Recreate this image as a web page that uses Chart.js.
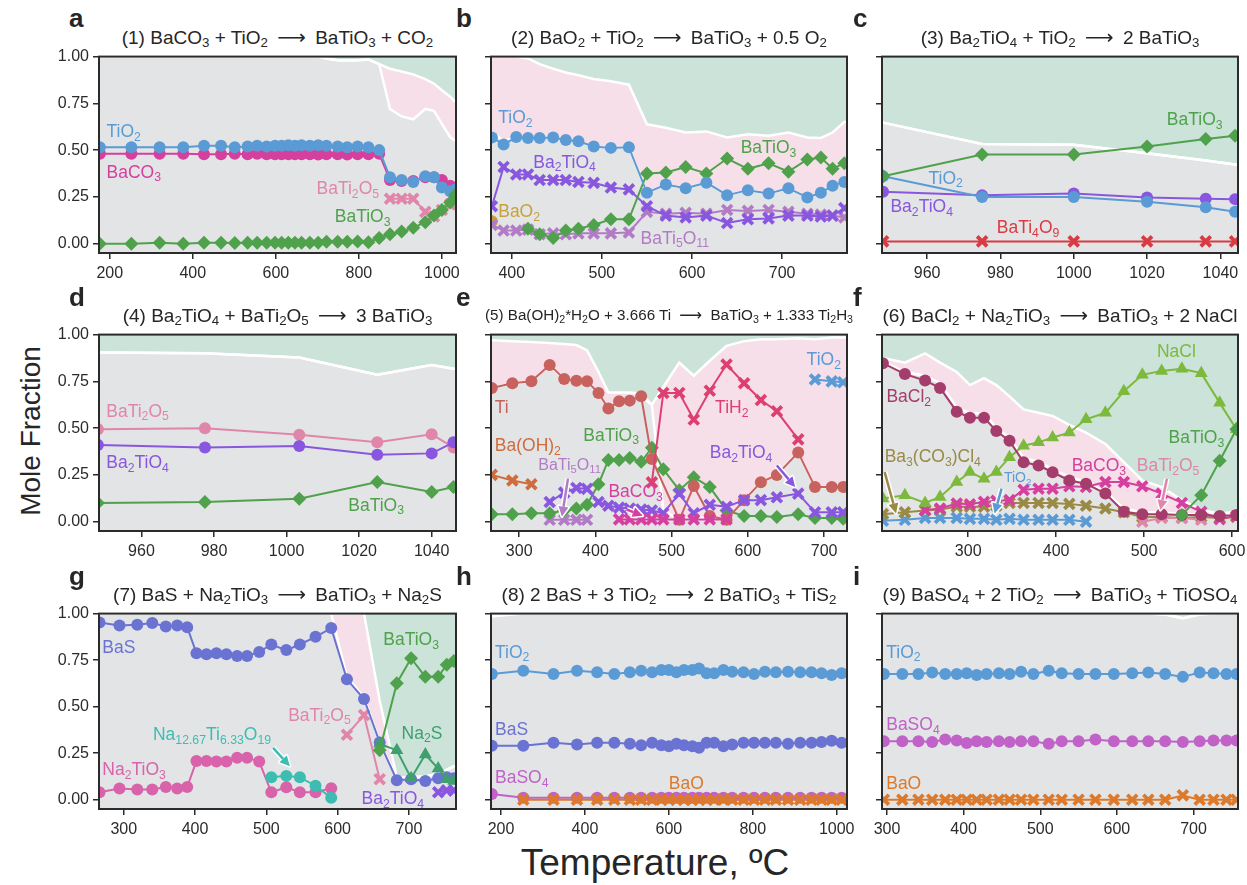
<!DOCTYPE html>
<html>
<head>
<meta charset="utf-8">
<script src="https://cdn.jsdelivr.net/npm/chart.js@4.4.1/dist/chart.umd.min.js"></script>
<style>
  body { margin: 0; background: #fff; font-family: "Liberation Sans", Arial, sans-serif; color: #262626; }
  #fig { position: relative; width: 1247px; height: 885px; overflow: hidden; }
  .title { position: absolute; text-align: center; white-space: nowrap; font-size: 19px; line-height: 22px; }
  .title sub { font-size: 0.7em; vertical-align: -0.25em; line-height: 0; }
  .title .arr { font-family: "DejaVu Sans", sans-serif; font-size: 1.05em; margin: 0 4px; }
  .letter { position: absolute; font-weight: bold; font-size: 26px; line-height: 26px; }
  .axlabel { position: absolute; text-align: center; white-space: nowrap; }
</style>
</head>
<body>
<div id="fig">
  <div class="axlabel" style="left:-69px;top:415px;width:200px;font-size:28px;line-height:32px;transform:rotate(-90deg);">Mole Fraction</div>
  <div class="axlabel" style="left:405px;top:842px;width:500px;font-size:37px;line-height:42px;">Temperature, ºC</div>
</div>
<script>
// ---- panel a: BaCO3 + TiO2 ----
const tempsA = [176, 252, 320, 377, 427, 468, 501, 532, 555, 578, 598, 614, 630, 646, 662, 682, 702, 722, 749, 772, 797, 823, 849, 875, 903, 931, 960, 981, 1000, 1020, 1032];
const aTiO2 = [0.515, 0.515, 0.515, 0.515, 0.524, 0.524, 0.515, 0.52, 0.524, 0.52, 0.524, 0.524, 0.526, 0.524, 0.526, 0.524, 0.526, 0.524, 0.52, 0.515, 0.52, 0.515, 0.50, 0.355, 0.34, 0.33, 0.36, 0.355, 0.30, 0.28, 0.29];
const aBaCO3 = [0.48, 0.48, 0.48, 0.48, 0.478, 0.478, 0.48, 0.478, 0.48, 0.478, 0.478, 0.478, 0.478, 0.478, 0.478, 0.478, 0.476, 0.478, 0.478, 0.476, 0.478, 0.478, 0.48, 0.34, 0.335, 0.335, 0.355, 0.355, 0.34, 0.31, 0.29];
const aBaTi2O5 = [null, null, null, null, null, null, null, null, null, null, null, null, null, null, null, null, null, null, null, null, null, null, null, 0.24, 0.24, 0.24, 0.17, 0.145, 0.18, 0.21, 0.22];
const aBaTiO3 = [0, 0, 0.005, 0, 0.005, 0.005, 0.003, 0.005, 0.005, 0.005, 0.005, 0.005, 0.005, 0.005, 0.005, 0.005, 0.005, 0.01, 0.01, 0.01, 0.012, 0.008, 0.03, 0.05, 0.065, 0.085, 0.115, 0.15, 0.18, 0.22, 0.26];
const aLower = [1, 1, 1, 1, 1, 1, 1, 1, 1, 1, 1, 1, 1, 1, 1, 1, 1, 0.99, 0.98, 0.98, 0.98, 0.985, 0.96, 0.72, 0.68, 0.665, 0.72, 0.71, 0.64, 0.57, 0.55];
const aUpper = [1, 1, 1, 1, 1, 1, 1, 1, 1, 1, 1, 1, 1, 1, 1, 1, 1, 0.99, 0.98, 0.98, 0.98, 0.985, 0.96, 0.935, 0.92, 0.905, 0.88, 0.855, 0.82, 0.785, 0.76];
const xTicksA = [200, 400, 600, 800, 1000];

// ---- panel b: BaO2 + TiO2 ----
const tempsB = [378, 391, 405, 418, 431, 446, 460, 474, 491, 510, 530, 550, 571, 593, 616, 639, 662, 685, 707, 728, 743, 756, 769];
const bTiO2 = [0.568, 0.53, 0.57, 0.565, 0.565, 0.568, 0.554, 0.547, 0.519, 0.512, 0.515, 0.272, 0.316, 0.296, 0.326, 0.259, 0.286, 0.268, 0.296, 0.247, 0.272, 0.31, 0.33];
const bBaO2 = [0.12, null, null, null, null, null, null, null, null, null, null, null, null, null, null, null, null, null, null, null, null, null, null];
const bBa2TiO4 = [0.2, 0.41, 0.37, 0.37, 0.34, 0.34, 0.34, 0.33, 0.325, 0.3, 0.29, 0.2, 0.15, 0.14, 0.15, 0.11, 0.13, 0.135, 0.15, 0.15, 0.145, 0.15, 0.19];
const bBaTi5O11 = [0.1, 0.07, 0.07, 0.075, 0.05, 0.055, 0.05, 0.055, 0.055, 0.055, 0.06, 0.17, 0.16, 0.165, 0.16, 0.18, 0.175, 0.18, 0.17, 0.16, 0.155, 0.15, 0.14];
const bBaTiO3 = [null, null, null, 0.08, 0.05, 0.03, 0.07, 0.08, 0.1, 0.13, 0.13, 0.375, 0.38, 0.41, 0.375, 0.455, 0.4, 0.43, 0.385, 0.45, 0.46, 0.4, 0.43];
const bLower = [0.6, 0.55, 0.57, 0.565, 0.565, 0.568, 0.554, 0.547, 0.519, 0.512, 0.515, 0.272, 0.316, 0.296, 0.326, 0.259, 0.286, 0.268, 0.296, 0.247, 0.272, 0.31, 0.33];
const bUpper = [1, 1, 1, 0.99, 0.96, 0.935, 0.915, 0.9, 0.88, 0.868, 0.85, 0.638, 0.62, 0.594, 0.6, 0.568, 0.585, 0.577, 0.594, 0.568, 0.565, 0.594, 0.65];
const xTicksB = [400, 500, 600, 700];

// ---- panel c: Ba2TiO4 + TiO2 ----
const tempsC = [948, 975, 1000, 1020, 1036, 1044];
const cBaTiO3 = [0.36, 0.476, 0.476, 0.52, 0.559, 0.577];
const cTiO2 = [0.36, 0.25, 0.25, 0.224, 0.194, 0.171];
const cBa2TiO4 = [0.277, 0.259, 0.268, 0.247, 0.24, 0.238];
const cBaTi4O9 = [0.012, 0.012, 0.012, 0.012, 0.012, 0.012];
const cBand = [0.647, 0.533, 0.529, 0.483, 0.445, 0.423];
const xTicksC = [960, 980, 1000, 1020, 1040];

// ---- panel d: Ba2TiO4 + BaTi2O5 ----
const tempsD = [948, 977.5, 1003.5, 1025, 1040, 1046];
const dBaTi2O5 = [0.494, 0.499, 0.464, 0.424, 0.467, 0.397];
const dBa2TiO4 = [0.41, 0.397, 0.404, 0.358, 0.365, 0.424];
const dBaTiO3 = [0.1, 0.105, 0.123, 0.212, 0.159, 0.185];
const dBand = [0.905, 0.9, 0.877, 0.785, 0.838, 0.817];
const xTicksD = [960, 980, 1000, 1020, 1040];

// ---- panel e: Ba(OH)2*H2O + Ti ----
const tempsE = [264, 291, 316, 340, 359, 375, 389, 404, 417, 431, 445, 460, 474, 489, 510, 529, 550, 572, 595, 617, 638, 666, 688, 710, 725];
const eTi = [0.714, 0.74, 0.75, 0.838, 0.763, 0.753, 0.75, 0.688, 0.605, 0.644, 0.647, 0.67, 0.335, null, 0.01, 0.19, 0.03, 0.01, 0.115, 0.21, 0.25, 0.37, 0.185, 0.185, 0.185];
const eBaOH2 = [0.25, 0.22, 0.2, null, null, null, null, null, null, null, null, null, null, null, null, null, null, null, null, null, null, null, null, null, null];
const eBaTi5O11 = [null, null, null, 0.01, 0.01, 0.01, 0.01, null, null, null, null, null, null, null, null, null, null, null, null, null, null, null, null, null, null];
const eBa2TiO4 = [null, null, null, 0.105, 0.155, 0.18, 0.175, 0.105, 0.085, 0.075, 0.07, 0.065, 0.06, 0.045, 0.15, 0.045, 0.09, 0.08, 0.115, 0.115, 0.13, 0.15, 0.05, 0.05, 0.05];
const eBaTiO3 = [0.04, 0.04, 0.045, 0.045, 0.06, 0.07, 0.09, 0.2, 0.33, 0.33, 0.34, 0.32, 0.395, 0.28, 0.168, 0.238, 0.185, 0.06, 0.03, 0.03, 0.025, 0.04, 0.02, 0.02, 0.015];
const eBaCO3 = [null, null, null, null, null, null, null, null, null, 0.012, 0.012, 0.012, 0.012, 0.012, 0.012, 0.012, 0.012, 0.012, null, null, null, null, null, null, null];
const eTiH2 = [null, null, null, null, null, null, null, null, null, null, null, null, 0.21, 0.688, 0.688, 0.546, 0.7, 0.84, 0.74, 0.65, 0.59, 0.44, null, null, null];
const eTiO2 = [null, null, null, null, null, null, null, null, null, null, null, null, null, null, null, null, null, null, null, null, null, null, 0.76, 0.75, 0.745];
const eLower = [0.714, 0.74, 0.75, 0.838, 0.763, 0.753, 0.75, 0.688, 0.605, 0.644, 0.647, 0.67, 0.625, 0.06, 0.01, 0.02, 0.02, 0.01, 0.115, 0.21, 0.25, 0.37, 0.185, 0.185, 0.185];
const eUpper = [0.97, 0.965, 0.96, 0.955, 0.95, 0.944, 0.915, 0.8, 0.69, 0.69, 0.69, 0.685, 0.625, 0.72, 0.85, 0.78, 0.86, 0.94, 0.965, 0.975, 0.975, 0.98, 0.975, 0.985, 0.985];
const xTicksE = [300, 400, 500, 600, 700];

// ---- panel f: BaCl2 + Na2TiO3 ----
const tempsF = [203, 228, 251, 268, 287, 302, 318, 332, 347, 363, 380, 396, 415, 434, 456, 477, 498, 520, 543, 565, 586, 605];
const fBaCl2 = [0.847, 0.789, 0.754, 0.715, 0.588, 0.556, 0.556, 0.485, 0.432, 0.318, 0.3, 0.264, 0.22, 0.203, 0.15, 0.053, 0.04, 0.04, 0.035, 0.035, 0.03, 0.035];
const fNaCl = [0.124, 0.141, 0.1, 0.132, 0.212, 0.265, 0.229, 0.265, 0.344, 0.406, 0.424, 0.45, 0.476, 0.547, 0.582, 0.697, 0.785, 0.806, 0.817, 0.794, 0.635, 0.494];
const fBaTiO3 = [null, null, null, null, null, null, null, null, null, null, null, null, null, null, null, null, null, null, 0.036, 0.141, 0.326, 0.494];
const fBaCO3 = [null, null, 0.062, 0.07, 0.097, 0.093, 0.106, 0.111, 0.115, 0.17, 0.176, 0.176, 0.189, 0.185, 0.212, 0.212, 0.189, 0.15, 0.1, 0.053, 0.013, 0.03];
const fBa3CO3Cl4 = [0.04, 0.05, 0.06, 0.065, 0.08, 0.08, 0.08, 0.085, 0.1, 0.1, 0.1, 0.1, 0.095, 0.085, 0.07, 0.05, 0.025, 0.025, 0.02, 0.025, 0.02, 0.025];
const fTiO2 = [0.005, 0.01, 0.02, 0.02, 0.02, 0.015, 0.015, 0.01, 0.015, 0.01, 0.01, 0.01, 0.01, 0, null, null, null, null, null, null, null, null];
const fBaTi2O5 = [null, null, null, null, null, null, null, null, null, null, null, null, null, null, null, null, 0, 0.02, 0.02, 0.01, null, null];
const fLower = [0.86, 0.8, 0.78, 0.74, 0.61, 0.58, 0.58, 0.5, 0.45, 0.34, 0.32, 0.28, 0.24, 0.21, 0.16, 0.07, 0.05, 0.05, 0.04, 0.04, 0.035, 0.04];
const fUpper = [0.876, 0.85, 0.9, 0.85, 0.8, 0.73, 0.767, 0.73, 0.67, 0.6, 0.582, 0.565, 0.517, 0.476, 0.415, 0.318, 0.22, 0.185, 0.115, 0.062, 0.044, 0.053];
const xTicksF = [300, 400, 500, 600];

// ---- panel g: BaS + Na2TiO3 ----
const tempsG = [266, 294, 319, 340, 359, 375, 389, 402, 416, 430, 444, 459, 473, 490, 507, 528, 547, 569, 591, 613, 637, 659, 683, 703, 723, 741, 753, 763];
const gBaS = [0.952, 0.936, 0.94, 0.949, 0.931, 0.936, 0.927, 0.787, 0.781, 0.787, 0.781, 0.772, 0.772, 0.794, 0.834, 0.804, 0.834, 0.875, 0.922, 0.647, 0.541, 0.308, 0.105, 0.11, 0.1, 0.115, 0.12, 0.115];
const gNa2TiO3 = [0.04, 0.06, 0.055, 0.055, 0.068, 0.06, 0.068, 0.208, 0.208, 0.205, 0.205, 0.226, 0.226, 0.205, 0.04, 0.067, 0.04, 0.04, 0.062, null, null, null, null, null, null, null, null, null];
const gNa12Ti6O19 = [null, null, null, null, null, null, null, null, null, null, null, null, null, null, 0.12, 0.128, 0.12, 0.075, 0.01, null, null, null, null, null, null, null, null, null];
const gBaTi2O5 = [null, null, null, null, null, null, null, null, null, null, null, null, null, null, null, null, null, null, null, 0.349, 0.455, 0.11, null, null, null, null, null, null];
const gBaTiO3 = [null, null, null, null, null, null, null, null, null, null, null, null, null, null, null, null, null, null, null, null, null, 0.266, 0.626, 0.76, 0.66, 0.66, 0.725, 0.745];
const gNa2S = [null, null, null, null, null, null, null, null, null, null, null, null, null, null, null, null, null, null, null, null, null, 0.3, 0.266, 0.115, 0.243, 0.167, 0.11, 0.1];
const gBa2TiO4 = [null, null, null, null, null, null, null, null, null, null, null, null, null, null, null, null, null, null, null, null, null, null, null, null, null, 0.04, 0.05, 0.05];
const gLower = [1, 1, 1, 1, 1, 1, 1, 1, 1, 1, 1, 1, 1, 1, 1, 1, 1, 1, 1, 0.66, 0.55, 0.31, 0.12, 0.12, 0.125, 0.14, 0.16, 0.18];
const gUpper = [1, 1, 1, 1, 1, 1, 1, 1, 1, 1, 1, 1, 1, 1, 1, 1, 1, 1, 1, 1, 1, 0.53, 0.12, 0.12, 0.125, 0.14, 0.16, 0.18];
const xTicksG = [300, 400, 500, 600, 700];

// ---- panel h: BaS + TiO2 ----
const tempsH = [178, 253, 325, 381, 429, 470, 507, 534, 560, 582, 600, 618, 636, 656, 672, 690, 708, 730, 751, 778, 803, 829, 855, 884, 913, 940, 964, 988, 1012];
const hTiO2 = [0.675, 0.693, 0.675, 0.693, 0.685, 0.675, 0.685, 0.693, 0.685, 0.697, 0.697, 0.685, 0.697, 0.697, 0.705, 0.68, 0.68, 0.697, 0.688, 0.685, 0.675, 0.688, 0.685, 0.688, 0.685, 0.685, 0.68, 0.67, 0.68];
const hBaS = [0.29, 0.29, 0.306, 0.297, 0.306, 0.306, 0.3, 0.292, 0.306, 0.292, 0.287, 0.3, 0.292, 0.287, 0.279, 0.306, 0.306, 0.287, 0.297, 0.306, 0.306, 0.306, 0.306, 0.3, 0.306, 0.306, 0.31, 0.317, 0.306];
const hBaSO4 = [0.03, 0.01, 0.01, 0.01, 0.01, 0.01, 0.01, 0.01, 0.01, 0.01, 0.01, 0.01, 0.01, 0.01, 0.01, 0.01, 0.01, 0.01, 0.01, 0.01, 0.01, 0.01, 0.01, 0.01, 0.01, 0.01, 0.01, 0.01, 0.01];
const hBaO = [null, 0, 0, 0, 0, 0, 0, 0, 0, 0, 0, 0, 0, 0, 0, 0, 0, 0, 0, 0, 0, 0, 0, 0, 0, 0, 0, 0, 0];
const hLower = [0.985, 1, 1, 1, 1, 1, 1, 1, 1, 1, 1, 1, 1, 1, 1, 1, 1, 1, 1, 1, 1, 1, 1, 1, 1, 1, 1, 1, 1];
const hUpper = [0.995, 1, 1, 1, 1, 1, 1, 1, 1, 1, 1, 1, 1, 1, 1, 1, 1, 1, 1, 1, 1, 1, 1, 1, 1, 1, 1, 1, 1];
const xTicksH = [200, 400, 600, 800, 1000];

// ---- panel i: BaSO4 + TiO2 ----
const tempsI = [296, 320, 341, 359, 376, 391, 404, 417, 430, 446, 460, 475, 491, 511, 528, 550, 572, 596, 620, 641, 663, 686, 708, 726, 743, 756];
const iTiO2 = [0.675, 0.675, 0.675, 0.684, 0.675, 0.675, 0.68, 0.67, 0.675, 0.68, 0.675, 0.688, 0.675, 0.693, 0.68, 0.675, 0.675, 0.675, 0.68, 0.684, 0.675, 0.66, 0.684, 0.68, 0.675, 0.675];
const iBaSO4 = [0.314, 0.314, 0.314, 0.31, 0.323, 0.318, 0.305, 0.314, 0.31, 0.314, 0.31, 0.314, 0.314, 0.3, 0.314, 0.314, 0.323, 0.314, 0.314, 0.314, 0.314, 0.31, 0.314, 0.318, 0.318, 0.318];
const iBaO = [0, 0, 0, 0, 0, 0, 0, 0, 0, 0, 0, 0, 0, 0, 0, 0, 0, 0, 0, 0, 0, 0.023, 0, 0, 0, 0];
const iBand = [1, 1, 1, 1, 1, 1, 1, 1, 1, 1, 1, 1, 1, 1, 1, 1, 1, 1, 1, 1, 0.995, 0.975, 0.995, 1, 1, 1];
const xTicksI = [300, 400, 500, 600, 700];

const yTicks = [0, 0.25, 0.5, 0.75, 1];

const C = {
  TiO2: '#5b9bd5', BaCO3: '#d5409e', BaTi2O5: '#e086aa', BaTiO3: '#4fa24b', Ba2TiO4: '#8957df',
  BaO2: '#c7a23b', BaTi5O11: '#b27bc6', BaTi4O9: '#d93b42', Ti: '#c8625f', BaOH2: '#cd6d3e',
  TiH2: '#dd3f70', BaCl2: '#a43d6b', NaCl: '#7cb93c', Ba3CO3Cl4: '#9a8a45', BaS: '#6a72d2',
  Na2TiO3: '#d863aa', Na12: '#3dbdb2', Na2S: '#3f9f6f', BaSO4: '#c062c8', BaO: '#dc792b'
};
const GRAY = '#e3e4e6', PINK = '#f6dfe8', GREEN = '#cbe3d9', INK = '#2b2b2b';
const FONT = '"Liberation Sans", Arial, sans-serif';

Chart.defaults.font.family = FONT;
Chart.defaults.color = INK;

const MARKS = {
  o: { pointStyle: 'circle', pointRadius: 6, pointBorderWidth: 0 },
  D: { pointStyle: 'rectRot', pointRadius: 7, pointBorderWidth: 0 },
  X: { pointStyle: 'crossRot', pointRadius: 7, pointBorderWidth: 3.8 },
  T: { pointStyle: 'triangle', pointRadius: 7.5, pointBorderWidth: 0 }
};

// plot-area boxes of the 3x3 grid
const COL_L = [99, 491, 882];
const COL_W = [357, 356, 356];
const ROW_T = [55, 333, 612];
const ROW_H = [198, 198, 197];
const LETTER_X = [69, 456, 853];
const LETTER_Y = [5, 284, 563];

// text with chemical subscripts: "BaTi_2O_5", "Na_{12.67}"
function chemText(ctx, text, x, y, size, color) {
  const parts = text.split(/(_\{[^}]*\}|_[0-9.]+)/).filter(s => s);
  ctx.save();
  ctx.fillStyle = color;
  ctx.textBaseline = 'middle';
  ctx.textAlign = 'left';
  let cx = x;
  parts.forEach(s => {
    const sub = s[0] === '_';
    const str = sub ? s.replace(/^_\{?/, '').replace(/\}$/, '') : s;
    ctx.font = (sub ? size * 0.7 : size) + 'px ' + FONT;
    ctx.fillText(str, cx, sub ? y + size * 0.3 : y);
    cx += ctx.measureText(str).width;
  });
  ctx.restore();
}

function arrow(ctx, x1, y1, x2, y2, color) {
  const a = Math.atan2(y2 - y1, x2 - x1);
  const head = 10, half = 5;
  const bx = x2 - Math.cos(a) * head, by = y2 - Math.sin(a) * head;
  const headPath = () => {
    ctx.beginPath();
    ctx.moveTo(x2, y2);
    ctx.lineTo(bx - Math.sin(a) * half, by + Math.cos(a) * half);
    ctx.lineTo(bx + Math.sin(a) * half, by - Math.cos(a) * half);
    ctx.closePath();
  };
  ctx.save();
  ctx.lineJoin = 'round';
  // white outline first
  ctx.strokeStyle = '#fff';
  ctx.lineWidth = 5.5;
  ctx.beginPath(); ctx.moveTo(x1, y1); ctx.lineTo(bx, by); ctx.stroke();
  ctx.lineWidth = 3;
  headPath(); ctx.stroke();
  ctx.strokeStyle = color; ctx.fillStyle = color;
  ctx.lineWidth = 2.5;
  ctx.beginPath(); ctx.moveTo(x1, y1); ctx.lineTo(bx, by); ctx.stroke();
  headPath(); ctx.fill();
  ctx.restore();
}

const chemLabels = {
  id: 'chemLabels',
  afterDatasetsDraw(chart, args, opts) {
    const { ctx, scales: { x, y } } = chart;
    (opts.arrows || []).forEach(a => {
      arrow(ctx, x.getPixelForValue(a[0]), y.getPixelForValue(a[1]),
        x.getPixelForValue(a[2]), y.getPixelForValue(a[3]), a[4]);
    });
    (opts.items || []).forEach(l => {
      chemText(ctx, l[0], x.getPixelForValue(l[1]), y.getPixelForValue(l[2]), l[4] || 17.5, l[3]);
    });
  }
};

const frame = {
  id: 'frame',
  beforeDatasetsDraw(chart) {
    const { ctx, chartArea: a } = chart;
    ctx.save();
    ctx.fillStyle = GRAY;
    ctx.fillRect(a.left, a.top, a.width, a.height);
    ctx.restore();
  },
  afterDraw(chart) {
    const { ctx, chartArea: a } = chart;
    ctx.save();
    ctx.strokeStyle = INK;
    ctx.lineWidth = 2;
    ctx.strokeRect(a.left, a.top, a.width, a.height);
    ctx.restore();
  }
};

function lineSet(temps, vals, color, mark) {
  return Object.assign({
    data: temps.map((t, i) => ({ x: t, y: vals[i] })),
    borderColor: color, backgroundColor: color,
    pointBackgroundColor: color, pointBorderColor: color,
    borderWidth: 2, tension: 0, spanGaps: true, fill: false, order: 0
  }, MARKS[mark]);
}

// band edges are carried flat out to the axis limits
function bandData(temps, vals, xMin, xMax) {
  const pts = temps.map((t, i) => ({ x: t, y: vals[i] }));
  pts.unshift({ x: xMin, y: vals[0] });
  pts.push({ x: xMax, y: vals[vals.length - 1] });
  return pts;
}

function makePanel(p) {
  const fig = document.getElementById('fig');
  const L = COL_L[p.col], T = ROW_T[p.row], W = COL_W[p.col], H = ROW_H[p.row];

  const letter = document.createElement('div');
  letter.className = 'letter';
  letter.style.left = LETTER_X[p.col] + 'px';
  letter.style.top = LETTER_Y[p.row] + 'px';
  letter.textContent = p.letter;
  fig.appendChild(letter);

  const title = document.createElement('div');
  title.className = 'title';
  title.style.left = (L - 20) + 'px';
  title.style.width = (W + 40) + 'px';
  title.style.top = (T - 29) + 'px';
  if (p.titleSize) title.style.fontSize = p.titleSize + 'px';
  title.innerHTML = p.title;
  fig.appendChild(title);

  const cv = document.createElement('canvas');
  cv.width = W + 74;
  cv.height = H + 46;
  cv.style.cssText = `position:absolute;left:${L - 50}px;top:${T - 12}px;`;
  fig.appendChild(cv);

  const datasets = p.series.map(s => lineSet(p.temps, s[0], s[1], s[2]));
  const n = datasets.length;
  datasets.push({
    data: bandData(p.temps, p.lower, p.xMin, p.xMax),
    borderColor: '#fff', borderWidth: 2.5, pointRadius: 0, tension: 0, fill: false, order: 1
  });
  datasets.push({
    data: bandData(p.temps, p.upper, p.xMin, p.xMax),
    borderColor: '#fff', borderWidth: 2.5, pointRadius: 0, tension: 0,
    fill: n, backgroundColor: PINK, order: 2
  });
  datasets.push({
    data: bandData(p.temps, p.upper, p.xMin, p.xMax),
    borderWidth: 0, pointRadius: 0, tension: 0, fill: 'end', backgroundColor: GREEN, order: 3
  });

  const tickGrid = { drawOnChartArea: false, drawTicks: true, tickLength: 6, color: INK, lineWidth: 1.5 };

  new Chart(cv, {
    type: 'line',
    data: { datasets },
    options: {
      responsive: false,
      animation: false,
      devicePixelRatio: 1,
      layout: { padding: { left: 0, right: 24, top: 12, bottom: 0 } },
      plugins: {
        legend: { display: false },
        tooltip: { enabled: false },
        chemLabels: { items: p.labels, arrows: p.arrows || [] }
      },
      scales: {
        x: {
          type: 'linear', min: p.xMin, max: p.xMax,
          afterFit: s => { s.height = 34; },
          afterBuildTicks: s => { s.ticks = p.xTicks.map(v => ({ value: v })); },
          grid: tickGrid, border: { display: false },
          ticks: {
            autoSkip: false, maxRotation: 0,
            padding: 5, color: INK, font: { size: 16 }, callback: v => String(v)
          }
        },
        y: {
          min: -0.05, max: 1,
          afterFit: s => { s.width = 50; },
          afterBuildTicks: s => { s.ticks = yTicks.map(v => ({ value: v })); },
          grid: tickGrid, border: { display: false },
          ticks: {
            padding: 4, color: INK, font: { size: 16 },
            callback: v => (p.col === 0 ? v.toFixed(2) : '')
          }
        }
      }
    },
    plugins: [frame, chemLabels]
  });
}

const ARROW = '<span class="arr">&#x27F6;</span>';

const panels = [
  {
    col: 0, row: 0, letter: 'a', xMin: 174, xMax: 1034, xTicks: xTicksA, temps: tempsA,
    title: `(1) BaCO<sub>3</sub> + TiO<sub>2</sub> ${ARROW} BaTiO<sub>3</sub> + CO<sub>2</sub>`,
    series: [[aBaTiO3, C.BaTiO3, 'D'], [aTiO2, C.TiO2, 'o'], [aBaCO3, C.BaCO3, 'o'], [aBaTi2O5, C.BaTi2O5, 'X']],
    lower: aLower, upper: aUpper,
    labels: [['TiO_2', 192, 0.594, C.TiO2], ['BaCO_3', 192, 0.379, C.BaCO3],
      ['BaTi_2O_5', 698, 0.291, C.BaTi2O5], ['BaTiO_3', 742, 0.141, C.BaTiO3]]
  },
  {
    col: 1, row: 0, letter: 'b', xMin: 377, xMax: 772, xTicks: xTicksB, temps: tempsB,
    title: `(2) BaO<sub>2</sub> + TiO<sub>2</sub> ${ARROW} BaTiO<sub>3</sub> + 0.5 O<sub>2</sub>`,
    series: [[bTiO2, C.TiO2, 'o'], [bBaTiO3, C.BaTiO3, 'D'], [bBa2TiO4, C.Ba2TiO4, 'X'],
      [bBaTi5O11, C.BaTi5O11, 'X'], [bBaO2, C.BaO2, 'o']],
    lower: bLower, upper: bUpper,
    labels: [['TiO_2', 385, 0.67, C.TiO2], ['Ba_2TiO_4', 424, 0.432, C.Ba2TiO4], ['BaO_2', 385, 0.168, C.BaO2],
      ['BaTi_5O_11', 543, 0.026, C.BaTi5O11], ['BaTiO_3', 654, 0.51, C.BaTiO3]]
  },
  {
    col: 2, row: 0, letter: 'c', xMin: 947.7, xMax: 1044.8, xTicks: xTicksC, temps: tempsC,
    title: `(3) Ba<sub>2</sub>TiO<sub>4</sub> + TiO<sub>2</sub> ${ARROW} 2 BaTiO<sub>3</sub>`,
    series: [[cBaTiO3, C.BaTiO3, 'D'], [cTiO2, C.TiO2, 'o'], [cBa2TiO4, C.Ba2TiO4, 'o'], [cBaTi4O9, C.BaTi4O9, 'X']],
    lower: cBand, upper: cBand,
    labels: [['BaTiO_3', 1025.4, 0.661, C.BaTiO3], ['TiO_2', 960.4, 0.347, C.TiO2],
      ['Ba_2TiO_4', 950, 0.194, C.Ba2TiO4], ['BaTi_4O_9', 979, 0.083, C.BaTi4O9]]
  },
  {
    col: 0, row: 1, letter: 'd', xMin: 948.3, xMax: 1046.7, xTicks: xTicksD, temps: tempsD,
    title: `(4) Ba<sub>2</sub>TiO<sub>4</sub> + BaTi<sub>2</sub>O<sub>5</sub> ${ARROW} 3 BaTiO<sub>3</sub>`,
    series: [[dBa2TiO4, C.Ba2TiO4, 'o'], [dBaTi2O5, C.BaTi2O5, 'o'], [dBaTiO3, C.BaTiO3, 'D']],
    lower: dBand, upper: dBand,
    labels: [['BaTi_2O_5', 950.3, 0.587, C.BaTi2O5], ['Ba_2TiO_4', 950.3, 0.314, C.Ba2TiO4],
      ['BaTiO_3', 1017, 0.085, C.BaTiO3]]
  },
  {
    col: 1, row: 1, letter: 'e', xMin: 263, xMax: 730, xTicks: xTicksE, temps: tempsE, titleSize: 15.2,
    title: `(5) Ba(OH)<sub>2</sub>*H<sub>2</sub>O + 3.666 Ti ${ARROW} BaTiO<sub>3</sub> + 1.333 Ti<sub>2</sub>H<sub>3</sub>`,
    series: [[eTiH2, C.TiH2, 'X'], [eBaCO3, C.BaCO3, 'X'], [eBa2TiO4, C.Ba2TiO4, 'X'], [eTi, C.Ti, 'o'],
      [eBaTiO3, C.BaTiO3, 'D'], [eBaTi5O11, C.BaTi5O11, 'X'], [eBaOH2, C.BaOH2, 'X'], [eTiO2, C.TiO2, 'X']],
    lower: eLower, upper: eUpper,
    labels: [['Ti', 268, 0.608, C.Ti], ['Ba(OH)_2', 268, 0.402, C.BaOH2], ['BaTi_5O_11', 325, 0.3, C.BaTi5O11, 16],
      ['BaTiO_3', 384, 0.459, C.BaTiO3], ['BaCO_3', 417, 0.155, C.BaCO3], ['TiH_2', 557, 0.608, C.TiH2],
      ['Ba_2TiO_4', 550, 0.367, C.Ba2TiO4], ['TiO_2', 677, 0.861, C.TiO2]],
    arrows: [[364, 0.23, 356, 0.027, C.BaTi5O11], [441, 0.065, 462, 0.032, C.BaCO3], [638, 0.3, 662, 0.185, C.Ba2TiO4]]
  },
  {
    col: 2, row: 1, letter: 'f', xMin: 202, xMax: 606.8, xTicks: xTicksF, temps: tempsF,
    title: `(6) BaCl<sub>2</sub> + Na<sub>2</sub>TiO<sub>3</sub> ${ARROW} BaTiO<sub>3</sub> + 2 NaCl`,
    series: [[fBaTiO3, C.BaTiO3, 'D'], [fBaCl2, C.BaCl2, 'o'], [fNaCl, C.NaCl, 'T'], [fBaCO3, C.BaCO3, 'X'],
      [fBaTi2O5, C.BaTi2O5, 'X'], [fBa3CO3Cl4, C.Ba3CO3Cl4, 'X'], [fTiO2, C.TiO2, 'X']],
    lower: fLower, upper: fUpper,
    labels: [['BaCl_2', 207, 0.667, C.BaCl2], ['NaCl', 514.6, 0.905, C.NaCl], ['BaTiO_3', 527.8, 0.447, C.BaTiO3],
      ['Ba_3(CO_3)Cl_4', 205, 0.344, C.Ba3CO3Cl4], ['BaCO_3', 417.7, 0.295, C.BaCO3],
      ['BaTi_2O_5', 491.8, 0.295, C.BaTi2O5], ['TiO_2', 340.6, 0.231, C.TiO2, 14]],
    arrows: [[205, 0.265, 218, 0.044, C.Ba3CO3Cl4], [338, 0.177, 330, 0.044, C.TiO2], [526, 0.23, 518.5, 0.062, C.BaTi2O5]]
  },
  {
    col: 0, row: 2, letter: 'g', xMin: 265.3, xMax: 766, xTicks: xTicksG, temps: tempsG,
    title: `(7) BaS + Na<sub>2</sub>TiO<sub>3</sub> ${ARROW} BaTiO<sub>3</sub> + Na<sub>2</sub>S`,
    series: [[gBaTiO3, C.BaTiO3, 'D'], [gNa2S, C.Na2S, 'T'], [gBa2TiO4, C.Ba2TiO4, 'X'], [gBaS, C.BaS, 'o'],
      [gBaTi2O5, C.BaTi2O5, 'X'], [gNa12Ti6O19, C.Na12, 'o'], [gNa2TiO3, C.Na2TiO3, 'o']],
    lower: gLower, upper: gUpper,
    labels: [['BaS', 270, 0.813, C.BaS], ['Na_2TiO_3', 270, 0.16, C.Na2TiO3],
      ['Na_{12.67}Ti_{6.33}O_{19}', 341, 0.345, C.Na12], ['BaTi_2O_5', 530.6, 0.451, C.BaTi2O5],
      ['BaTiO_3', 664, 0.857, C.BaTiO3], ['Na_2S', 689.7, 0.354, C.Na2S], ['Ba_2TiO_4', 633.5, 0.002, C.Ba2TiO4]],
    arrows: [[509.5, 0.278, 533, 0.18, C.Na12]]
  },
  {
    col: 1, row: 2, letter: 'h', xMin: 176, xMax: 1024.6, xTicks: xTicksH, temps: tempsH,
    title: `(8) 2 BaS + 3 TiO<sub>2</sub> ${ARROW} 2 BaTiO<sub>3</sub> + TiS<sub>2</sub>`,
    series: [[hTiO2, C.TiO2, 'o'], [hBaS, C.BaS, 'o'], [hBaO, C.BaO, 'X'], [hBaSO4, C.BaSO4, 'o']],
    lower: hLower, upper: hUpper,
    labels: [['TiO_2', 185.6, 0.79, C.TiO2], ['BaS', 185.6, 0.376, C.BaS], ['BaSO_4', 185.6, 0.116, C.BaSO4],
      ['BaO', 600, 0.085, C.BaO]]
  },
  {
    col: 2, row: 2, letter: 'i', xMin: 293.5, xMax: 758, xTicks: xTicksI, temps: tempsI,
    title: `(9) BaSO<sub>4</sub> + 2 TiO<sub>2</sub> ${ARROW} BaTiO<sub>3</sub> + TiOSO<sub>4</sub>`,
    series: [[iTiO2, C.TiO2, 'o'], [iBaSO4, C.BaSO4, 'o'], [iBaO, C.BaO, 'X']],
    lower: iBand, upper: iBand,
    labels: [['TiO_2', 299, 0.79, C.TiO2], ['BaSO_4', 299, 0.398, C.BaSO4], ['BaO', 299, 0.085, C.BaO]]
  }
];

panels.forEach(makePanel);
</script>
</body>
</html>
